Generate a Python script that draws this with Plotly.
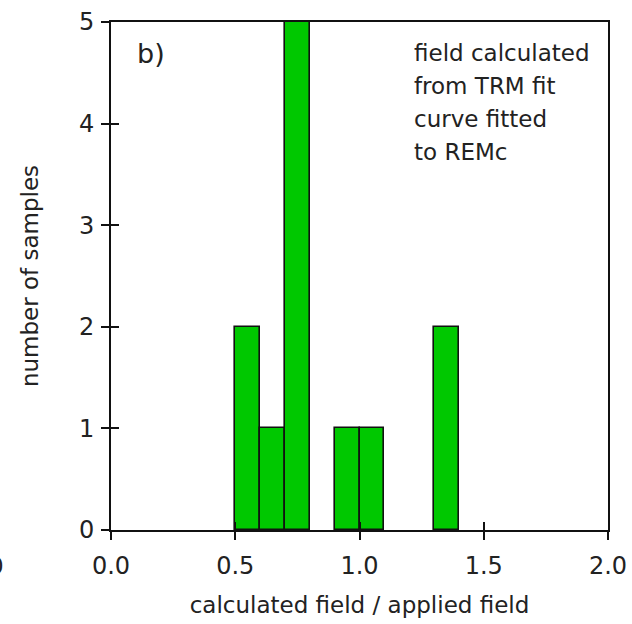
import plotly.graph_objects as go

# data
bin_start = [0.5, 0.6, 0.7, 0.9, 1.0, 1.3]
bin_end = [0.6, 0.7, 0.8, 1.0, 1.1, 1.4]
counts = [2, 1, 5, 1, 1, 2]
x_ticks = [0.0, 0.5, 1.0, 1.5, 2.0]
x_tick_labels = ["0.0", "0.5", "1.0", "1.5", "2.0"]
y_ticks = [0, 1, 2, 3, 4, 5]
y_tick_labels = ["0", "1", "2", "3", "4", "5"]
note_lines = ["field calculated", "from TRM fit", "curve fitted", "to REMc"]
panel_label = "b)"
x_title = "calculated field / applied field"
y_title = "number of samples"

FONT = "DejaVu Sans"
TXT = "#222222"

centers = [(a + b) / 2 for a, b in zip(bin_start, bin_end)]
widths = [b - a for a, b in zip(bin_start, bin_end)]

fig = go.Figure()
fig.add_trace(go.Bar(
    x=centers, y=counts, width=widths,
    marker=dict(color="#00C800", line=dict(color="#111111", width=1.6)),
    showlegend=False,
))
# invisible trace for the inner-tick overlay axes
fig.add_trace(go.Scatter(x=[0], y=[0], xaxis="x2", yaxis="y2",
                         mode="markers", marker=dict(opacity=0),
                         showlegend=False, hoverinfo="skip"))

axis_common = dict(showgrid=False, zeroline=False, linecolor="#111111",
                   linewidth=2, tickcolor="#111111", tickwidth=2,
                   automargin=False)
tick_only = {k: v for k, v in axis_common.items() if k != "linecolor"}

L, R, T, B = 111, 608, 22, 530

fig.update_layout(
    width=632, height=624,
    margin=dict(l=L, r=632 - R, t=T, b=624 - B, autoexpand=False),
    paper_bgcolor="white", plot_bgcolor="white",
    font=dict(family=FONT, size=23, color=TXT),
    bargap=0,
    xaxis=dict(range=[0, 2], tickvals=x_ticks, ticktext=x_tick_labels,
               ticks="outside", ticklen=8, showline=True, mirror=True,
               title=dict(text=x_title, font=dict(size=23), standoff=18),
               tickfont=dict(size=24), ticklabelstandoff=5,
               ticklabeloverflow="allow", **axis_common),
    yaxis=dict(range=[0, 5], tickvals=y_ticks, ticktext=y_tick_labels,
               ticks="outside", ticklen=8, showline=True, mirror=True,
               title=dict(text=y_title, font=dict(size=23), standoff=34),
               tickfont=dict(size=24), ticklabelstandoff=2,
               ticklabeloverflow="allow", **axis_common),
    xaxis2=dict(range=[0, 2], tickvals=x_ticks, overlaying="x", side="bottom",
                ticks="inside", ticklen=8, showticklabels=False, showline=False,
                anchor="y2", **tick_only),
    yaxis2=dict(range=[0, 5], tickvals=y_ticks, overlaying="y", side="left",
                ticks="inside", ticklen=8, showticklabels=False, showline=False,
                anchor="x2", **tick_only),
)

W, H = R - L, B - T

# panel label
fig.add_annotation(text=panel_label, xref="paper", yref="paper",
                   x=(135 - L) / W, y=(B - 53) / H, xanchor="left",
                   yanchor="middle", showarrow=False,
                   font=dict(family=FONT, size=27, color=TXT))

# note text, one annotation per line
for i, line in enumerate(note_lines):
    py = 53 + 33 * i
    fig.add_annotation(text=line, xref="paper", yref="paper",
                       x=(412 - L) / W, y=(B - py) / H,
                       xanchor="left", yanchor="middle", showarrow=False,
                       font=dict(family=FONT, size=23, color=TXT))

# stray cut-off tick label at the left edge from the neighbouring panel
fig.add_annotation(text="0", xref="paper", yref="paper",
                   x=(-4 - L) / W, y=(B - 566) / H,
                   xanchor="center", yanchor="middle", showarrow=False,
                   font=dict(family=FONT, size=23, color=TXT))

fig.write_html("out.html")
